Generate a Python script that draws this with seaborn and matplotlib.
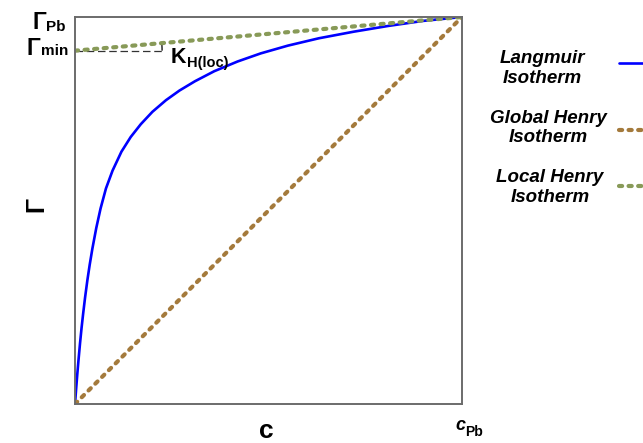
import numpy as np
import pandas as pd
import matplotlib
matplotlib.use("Agg")
import matplotlib.pyplot as plt
from matplotlib.patches import Arc
import seaborn as sns

# ---- data (normalised units) ----
c_langmuir = [0, 0.003, 0.006, 0.009, 0.013, 0.017, 0.021, 0.026, 0.032, 0.038,
              0.045, 0.055, 0.066, 0.08, 0.097, 0.12, 0.144, 0.17, 0.2, 0.235,
              0.27, 0.31, 0.36, 0.42, 0.48, 0.55, 0.63, 0.72, 0.81, 0.9, 1.0]
gamma_langmuir = [0, 0.04, 0.078, 0.113, 0.157, 0.197, 0.233, 0.275, 0.32, 0.36,
                  0.402, 0.455, 0.505, 0.557, 0.603, 0.652, 0.69, 0.723, 0.755, 0.785,
                  0.81, 0.834, 0.86, 0.885, 0.906, 0.926, 0.945, 0.962, 0.977, 0.99, 1.0]
c_henry = [0, 1]
gamma_global = [0, 1]
gamma_local = [0.913, 1.0]
gamma_min = 0.913

legend_labels = ["Langmuir\nIsotherm", "Global Henry\nIsotherm", "Local Henry\nIsotherm"]

BLUE = "#0000FF"
BROWN = "#A47A3C"
GREEN = "#889A58"
DOTS = (0.75, 1.55)

sns.set_theme(style="white")
plt.rcParams["font.family"] = ["Liberation Sans", "DejaVu Sans"]
plt.rcParams["text.color"] = "black"

fig = plt.figure(figsize=(6.43, 4.43), dpi=100)
ax = fig.add_axes([75 / 643, 1 - 404 / 443, 387 / 643, 387 / 443])

df_l = pd.DataFrame({"c": c_langmuir, "g": gamma_langmuir})
df_g = pd.DataFrame({"c": c_henry, "g": gamma_global})
df_loc = pd.DataFrame({"c": c_henry, "g": gamma_local})

sns.lineplot(data=df_l, x="c", y="g", ax=ax, color=BLUE, linewidth=1.9, sort=False)
sns.lineplot(data=df_g, x="c", y="g", ax=ax, color=BROWN, linewidth=3.0, sort=False)
sns.lineplot(data=df_loc, x="c", y="g", ax=ax, color=GREEN, linewidth=3.0, sort=False)
for ln in ax.lines[1:]:
    ln.set_dashes(DOTS)
    ln.set_dash_capstyle("round")

# Gamma_min reference (dashed) and angle arc
ax.plot([0, 0.225], [gamma_min, gamma_min], color="#333333", lw=0.9,
        dashes=(6, 3), zorder=1)
slope_deg = np.degrees(np.arctan(1 - gamma_min))
ax.add_patch(Arc((0, gamma_min), 0.45, 0.45, theta1=0, theta2=slope_deg,
                 color="black", lw=0.9))

ax.set_xlim(0, 1)
ax.set_ylim(0, 1)
ax.set_xticks([])
ax.set_yticks([])
ax.set_xlabel("")
ax.set_ylabel("")
for s in ax.spines.values():
    s.set_color("#6b6b6b")
    s.set_linewidth(1.4)


def sub_label(px, py, base, sub, size, subsize, dy, base_style="normal"):
    """base text with its left/baseline at pixel (px, py); subscript after it"""
    t = fig.text(px / 643, 1 - py / 443, base, fontsize=size, fontweight="bold",
                 fontstyle=base_style, ha="left", va="baseline", color="black")
    ax.annotate(sub, xy=(1, 0), xycoords=t, xytext=(0.3, dy),
                textcoords="offset points", fontsize=subsize, fontweight="bold",
                ha="left", va="baseline", annotation_clip=False, color="black")
    return t


sub_label(171, 63, "K", "H(loc)", 15.5, 10.5, 1.0)
sub_label(32, 29, "Γ", "Pb", 16.5, 11, 2.2)
sub_label(27, 55, "Γ", "min", 16.5, 11, 3.4)
sub_label(455, 430, "c", "Pb", 13, 10, -1.2, base_style="italic")

fig.text(266 / 643, 1.0, "c", fontsize=19, fontweight="bold",
         ha="center", va="bottom", color="black",
         transform=matplotlib.transforms.blended_transform_factory(
             fig.transFigure, matplotlib.transforms.offset_copy(
                 fig.transFigure, fig=fig, y=-443 * 0.72, units="points")))

fig.text(36 / 643, 1 - 205 / 443, "Γ", fontsize=18, fontweight="bold",
         ha="center", va="center", rotation=90, color="black")

# legend (manual, text left of line samples)
leg_y = [63, 130, 186]
leg_text_y = [68.5, 128, 187.5]
leg_x = [542, 548, 550]
leg_colors = [BLUE, BROWN, GREEN]
for i, (lab, xx, ty, yy, col) in enumerate(zip(legend_labels, leg_x, leg_text_y,
                                               leg_y, leg_colors)):
    fig.text(xx / 643, 1 - ty / 443, lab, fontsize=13.5, fontweight="bold",
             fontstyle="italic", ha="center", va="center", linespacing=1.2,
             color="black")
    l = plt.Line2D([619 / 643, 646 / 643], [1 - yy / 443, 1 - yy / 443],
                   transform=fig.transFigure, color=col,
                   lw=1.9 if i == 0 else 3.0)
    if i > 0:
        l.set_dashes(DOTS)
        l.set_dash_capstyle("round")
    fig.add_artist(l)

fig.savefig("out.png", dpi=100)
